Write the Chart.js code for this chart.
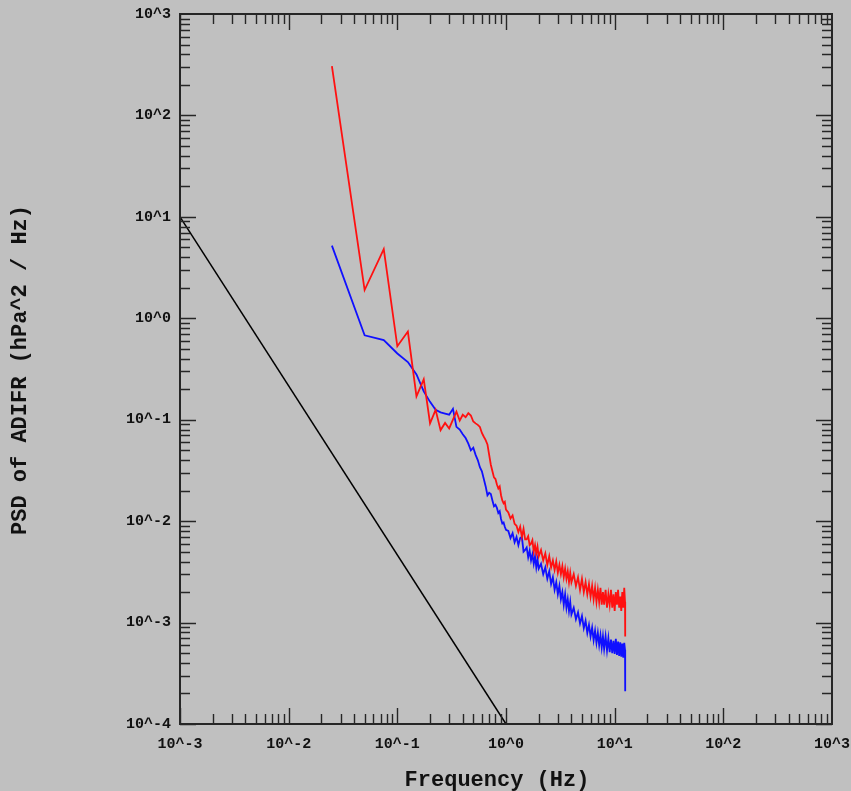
<!DOCTYPE html>
<html>
<head>
<meta charset="utf-8">
<script src="https://cdn.jsdelivr.net/npm/chart.js@4"></script>
<style>
  body { margin: 0; background: #c0c0c0; }
  #wrap { width: 851px; height: 791px; }
</style>
</head>
<body>
<div id="wrap"><canvas id="psd" width="851" height="791"></canvas></div>
<script>
// frequency grid (Hz)
var freq = [
  0.025, 0.05, 0.075, 0.1, 0.125, 0.15, 0.175, 0.2, 0.225, 0.25,
  0.275, 0.3, 0.325, 0.35, 0.375, 0.4, 0.425, 0.45, 0.475, 0.5,
  0.525, 0.55, 0.575, 0.6, 0.625, 0.65, 0.675, 0.7, 0.725, 0.75,
  0.775, 0.8, 0.825, 0.85, 0.875, 0.9, 0.925, 0.95, 0.975, 1.0,
  1.05, 1.1, 1.15, 1.2, 1.25, 1.3, 1.35, 1.4, 1.45, 1.5,
  1.55, 1.6, 1.65, 1.7, 1.75, 1.8, 1.85, 1.9, 1.95, 2.0,
  2.1, 2.2, 2.3, 2.4, 2.5, 2.6, 2.7, 2.8, 2.9, 3.0,
  3.1, 3.2, 3.3, 3.4, 3.5, 3.6, 3.7, 3.8, 3.9, 4.0,
  4.2, 4.4, 4.6, 4.8, 5.0, 5.2, 5.4, 5.6, 5.8, 6.0,
  6.2, 6.4, 6.6, 6.8, 7.0, 7.2, 7.4, 7.6, 7.8, 8.0,
  8.25, 8.5, 8.75, 9.0, 9.25, 9.5, 9.75, 10.0, 10.25, 10.5,
  10.75, 11.0, 11.25, 11.5, 11.75, 12.0, 12.25, 12.45, 12.5
];

// red spectrum (hPa^2/Hz)
var red = [
  307, 1.9, 4.8, 0.53, 0.74, 0.17, 0.25, 0.092, 0.125, 0.079,
  0.093, 0.082, 0.10, 0.12, 0.098, 0.112, 0.106, 0.116, 0.110, 0.096,
  0.092, 0.089, 0.085, 0.074, 0.068, 0.063, 0.057, 0.045, 0.036, 0.031,
  0.027, 0.026, 0.023, 0.021, 0.022, 0.018, 0.016, 0.015, 0.0155, 0.013,
  0.0122, 0.0106, 0.0114, 0.0094, 0.0090, 0.0078, 0.0088, 0.0070, 0.0084, 0.0066,
  0.0066, 0.0071, 0.0058, 0.0060, 0.0065, 0.0050, 0.0058, 0.0048, 0.0056, 0.0045,
  0.0052, 0.0041, 0.0048, 0.0037, 0.0045, 0.0035, 0.0041, 0.0033, 0.0040, 0.0031,
  0.0037, 0.0030, 0.0036, 0.0028, 0.0034, 0.0027, 0.0032, 0.0025, 0.0031, 0.0025,
  0.0030, 0.0023, 0.0028, 0.0021, 0.0027, 0.0020, 0.0025, 0.0019, 0.0024, 0.0018,
  0.0023, 0.0017, 0.0022, 0.0016, 0.0021, 0.0016, 0.0022, 0.0015, 0.0020, 0.0015,
  0.0021, 0.0014, 0.0019, 0.0015, 0.0021, 0.0014, 0.0019, 0.0013, 0.0020, 0.0015,
  0.0021, 0.0014, 0.0018, 0.0013, 0.0020, 0.0014, 0.0022, 0.0016, 0.00073
];

// blue spectrum (hPa^2/Hz)
var blue = [
  5.2, 0.68, 0.61, 0.45, 0.37, 0.28, 0.19, 0.15, 0.125, 0.118,
  0.115, 0.112, 0.128, 0.085, 0.080, 0.072, 0.066, 0.058, 0.050, 0.053,
  0.045, 0.040, 0.034, 0.031, 0.026, 0.022, 0.018, 0.019, 0.0185, 0.016,
  0.014, 0.0145, 0.0135, 0.012, 0.0125, 0.0105, 0.0095, 0.0097, 0.0088, 0.0082,
  0.0080, 0.0068, 0.0076, 0.0062, 0.0070, 0.0058, 0.0068, 0.0070, 0.0050, 0.0052,
  0.0055, 0.0044, 0.0051, 0.0041, 0.0047, 0.0038, 0.0045, 0.0035, 0.0042, 0.0034,
  0.0038, 0.0030, 0.0035, 0.0027, 0.0032, 0.0024, 0.0028, 0.0021, 0.0025, 0.0019,
  0.0023, 0.0017, 0.0020, 0.0015, 0.0019, 0.0014, 0.0017, 0.0013, 0.0016, 0.0012,
  0.00140, 0.00108, 0.00126, 0.00098, 0.00116, 0.00088, 0.00104, 0.00079, 0.00095, 0.00073,
  0.00089, 0.00067, 0.00083, 0.00063, 0.00079, 0.00060, 0.00075, 0.00057, 0.00073, 0.00055,
  0.00073, 0.00053, 0.00070, 0.00051, 0.00068, 0.00050, 0.00066, 0.00049, 0.00069, 0.00048,
  0.00065, 0.00047, 0.00064, 0.00046, 0.00062, 0.00045, 0.00063, 0.00054, 0.00021
];

// reference slope line (-5/3)
var refX = [0.001, 1];
var refY = [10, 0.0001];

var xDecades = [-3, -2, -1, 0, 1, 2];
var yDecades = [-4, -3, -2, -1, 0, 1, 2];

function pts(xs, ys) {
  return xs.map(function (x, i) { return { x: x, y: ys[i] }; });
}

function decadeLabel(v) {
  var e = Math.log10(v);
  var r = Math.round(e);
  if (Math.abs(e - r) < 1e-6) return '10^' + r;
  return '';
}

// inward tick marks on all four sides, frame and axis titles
var framePlugin = {
  id: 'frame',
  afterDraw: function (chart) {
    var ctx = chart.ctx, a = chart.chartArea;
    var xs = chart.scales.x, ys = chart.scales.y;
    ctx.save();
    ctx.strokeStyle = '#262626';
    ctx.lineWidth = 1.4;
    ctx.beginPath();
    xDecades.forEach(function (d) {
      for (var m = 1; m <= 9; m++) {
        var px = Math.round(xs.getPixelForValue(m * Math.pow(10, d))) + 0.5;
        var len = m === 1 ? 16 : 10;
        ctx.moveTo(px, a.bottom); ctx.lineTo(px, a.bottom - len);
        ctx.moveTo(px, a.top); ctx.lineTo(px, a.top + len);
      }
    });
    yDecades.forEach(function (d) {
      for (var m = 1; m <= 9; m++) {
        var py = Math.round(ys.getPixelForValue(m * Math.pow(10, d))) + 0.5;
        var len = m === 1 ? 16 : 10;
        ctx.moveTo(a.left, py); ctx.lineTo(a.left + len, py);
        ctx.moveTo(a.right, py); ctx.lineTo(a.right - len, py);
      }
    });
    ctx.stroke();
    ctx.lineWidth = 2;
    ctx.strokeRect(a.left, a.top, a.right - a.left, a.bottom - a.top);

    ctx.fillStyle = '#111';
    ctx.font = 'bold 22px "Liberation Mono", monospace';
    ctx.textAlign = 'center';
    ctx.textBaseline = 'middle';
    ctx.fillText('Frequency (Hz)', 497, 780);
    ctx.translate(20, 370);
    ctx.rotate(-Math.PI / 2);
    ctx.fillText('PSD of ADIFR (hPa^2 / Hz)', 0, 0);
    ctx.restore();
  }
};

new Chart(document.getElementById('psd'), {
  type: 'line',
  data: {
    datasets: [
      { data: pts(refX, refY), borderColor: '#000000', borderWidth: 1.5 },
      { data: pts(freq, red), borderColor: '#ff1010', borderWidth: 1.8 },
      { data: pts(freq, blue), borderColor: '#1010ff', borderWidth: 1.8 }
    ]
  },
  options: {
    responsive: false,
    animation: false,
    layout: { padding: { left: 10, right: 19, top: 14, bottom: 10 } },
    elements: { point: { radius: 0 }, line: { tension: 0 } },
    scales: {
      x: {
        type: 'logarithmic',
        min: 0.001,
        max: 1000,
        grid: { display: false, drawTicks: false },
        border: { display: false },
        ticks: {
          autoSkip: false,
          maxRotation: 0,
          padding: 11,
          color: '#111',
          font: { family: '"Liberation Mono", monospace', size: 15, weight: 'bold' },
          callback: decadeLabel
        },
        afterFit: function (s) { s.height = 57; s.paddingLeft = 0; s.paddingRight = 0; }
      },
      y: {
        type: 'logarithmic',
        min: 0.0001,
        max: 1000,
        grid: { display: false, drawTicks: false },
        border: { display: false },
        ticks: {
          autoSkip: false,
          padding: 9,
          color: '#111',
          font: { family: '"Liberation Mono", monospace', size: 15, weight: 'bold' },
          callback: decadeLabel
        },
        afterFit: function (s) { s.width = 170; s.paddingTop = 0; s.paddingBottom = 0; }
      }
    },
    plugins: {
      legend: { display: false },
      tooltip: { enabled: false }
    }
  },
  plugins: [framePlugin]
});
</script>
</body>
</html>
